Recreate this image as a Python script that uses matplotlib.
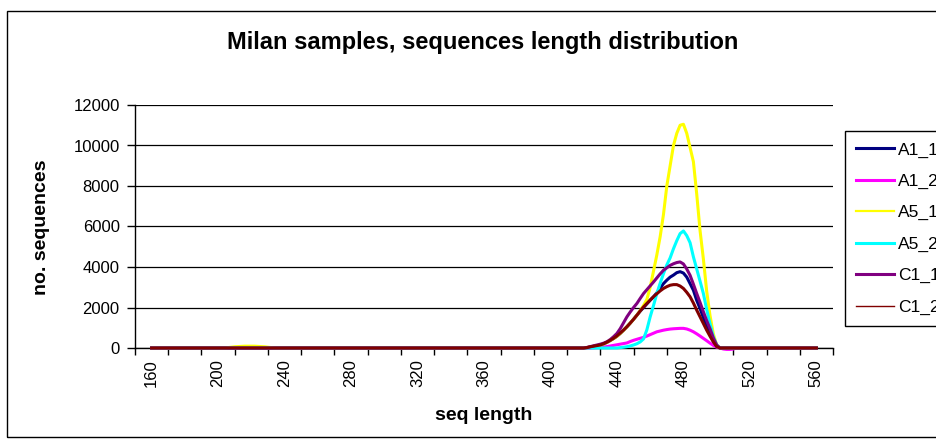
import matplotlib
matplotlib.use('Agg')
import matplotlib.pyplot as plt
from matplotlib.lines import Line2D
from matplotlib.patches import Rectangle

plt.rcParams['font.family'] = ['Liberation Sans', 'DejaVu Sans']

# sequence length (x), flat baseline + the peak region
seq_len = [160, 204, 210, 216, 222, 228, 234, 418,
           420, 422, 424, 426, 428, 430, 432, 434, 436, 438,
           440, 442, 444, 446, 448, 450, 452, 454, 456, 458,
           460, 462, 464, 466, 468, 470, 472, 474, 476, 478,
           480, 482, 484, 486, 488, 490, 492, 494, 496, 498,
           500, 502, 504, 506, 508, 510, 512, 560]

a1_1 = [0, 0, 0, 0, 0, 0, 0, 0,
        0, 20, 50, 80, 110, 140, 200, 280, 370, 470,
        580, 720, 880, 1050, 1230, 1420, 1620, 1820, 2000, 2180,
        2360, 2530, 2720, 2950, 3180, 3350, 3500, 3600, 3720, 3770,
        3700, 3500, 3180, 2850, 2350, 1950, 1500, 1050, 680, 350,
        80, 0, 0, 0, 0, 0, 0, 0]
a1_2 = [0, 0, 0, 0, 0, 0, 0, 0,
        0, 0, 0, 10, 20, 30, 50, 70, 100, 130,
        160, 190, 220, 250, 320, 380, 430, 480, 525, 590,
        660, 730, 800, 840, 880, 910, 935, 950, 960, 970,
        970, 940, 880, 800, 700, 590, 475, 360, 240, 130,
        40, 0, -50, -70, -70, -50, 0, 0]
a5_1 = [0, 0, 60, 90, 90, 60, 0, 0,
        0, 20, 50, 80, 110, 140, 200, 280, 370, 470,
        580, 720, 880, 1050, 1230, 1420, 1620, 1850, 2100, 2400,
        3000, 3800, 4600, 5500, 6600, 8000, 9000, 10000, 10600, 11000,
        11050, 10600, 9900, 9200, 7600, 5800, 4400, 2800, 1600, 700,
        150, 0, 0, 0, 0, 0, 0, 0]
a5_2 = [0, 0, 0, 0, 0, 0, 0, 0,
        0, 0, 0, 0, 0, 0, 0, 0, 0, 0,
        0, 20, 40, 65, 100, 150, 210, 300, 450, 900,
        1540, 2100, 2690, 3200, 3670, 4100, 4450, 4900, 5300, 5650,
        5780, 5550, 5200, 4500, 3900, 3300, 2690, 1900, 1200, 560,
        150, 0, 0, 0, 0, 0, 0, 0]
c1_1 = [0, 0, 0, 0, 0, 0, 0, 0,
        0, 30, 70, 110, 150, 190, 240, 310, 420, 560,
        720, 960, 1250, 1540, 1780, 2000, 2200, 2450, 2690, 2880,
        3070, 3260, 3460, 3660, 3840, 3960, 4080, 4160, 4220, 4250,
        4150, 3900, 3590, 3150, 2690, 2250, 1790, 1350, 950, 500,
        150, 0, 0, 0, 0, 0, 0, 0]
c1_2 = [0, 0, 0, 0, 0, 0, 0, 0,
        0, 20, 60, 90, 120, 150, 210, 290, 380, 480,
        600, 740, 890, 1050, 1230, 1420, 1620, 1830, 2030, 2200,
        2370, 2530, 2680, 2820, 2940, 3030, 3100, 3130, 3130, 3060,
        2940, 2750, 2530, 2220, 1870, 1540, 1210, 880, 580, 300,
        65, 0, 0, 0, 0, 0, 0, 0]

names = ['A1_1', 'A1_2', 'A5_1', 'A5_2', 'C1_1', 'C1_2']
series = [a1_1, a1_2, a5_1, a5_2, c1_1, c1_2]
colors = ['#000080', '#FF00FF', '#FFFF00', '#00FFFF', '#800080', '#800000']
legend_lw = [2.2, 2.2, 1.6, 2.2, 2.2, 1.0]

x_ticks = list(range(150, 571, 20))
x_labels = list(range(160, 561, 40))
y_ticks = list(range(0, 12001, 2000))

fig = plt.figure(figsize=(9.36, 4.44), dpi=100)
ax = fig.add_axes([135/936, 1-348/444, 698/936, 243/444])

for name, vals, col in zip(names, series, colors):
    ax.plot(seq_len, vals, color=col, lw=2.2, label=name, clip_on=False, zorder=3)

ax.set_xlim(150, 570)
ax.set_ylim(0, 12000)
ax.set_yticks(y_ticks)
ax.set_yticklabels([str(v) for v in y_ticks], fontsize=12)
ax.set_xticks(x_ticks)
ax.set_xticklabels([''] * len(x_ticks))
ax.set_xticks(x_labels, minor=True)
ax.set_xticklabels([str(v) for v in x_labels], minor=True, rotation=90, fontsize=12)
ax.tick_params(axis='x', which='major', direction='out', length=5, width=1, color='black')
ax.tick_params(axis='x', which='minor', length=0, pad=8)
ax.tick_params(axis='y', direction='out', length=6, width=1, pad=5)
ax.grid(axis='y', color='black', lw=0.9, zorder=1)
for s in ['top', 'right']:
    ax.spines[s].set_visible(False)
ax.spines['left'].set_linewidth(1)
ax.spines['bottom'].set_linewidth(1)
ax.spines['bottom'].set_zorder(2)

fig.text(483/936, 1-42/444, 'Milan samples, sequences length distribution',
         ha='center', va='center', fontsize=17, fontweight='bold')
fig.text(42/936, 1-227/444, 'no. sequences', rotation=90,
         ha='center', va='center', fontsize=14, fontweight='bold')
fig.text(484/936, 1-415/444, 'seq length',
         ha='center', va='center', fontsize=14, fontweight='bold')

# outer chart border (runs off the right edge like the reference)
fig.patches.append(Rectangle((7/936, 1-437/444), 1.1, (437-11)/444,
                             transform=fig.transFigure, fill=False,
                             edgecolor='black', lw=1))

handles = [Line2D([0], [0], color=c, lw=w) for c, w in zip(colors, legend_lw)]
leg = fig.legend(handles, names, loc='upper left',
                 bbox_to_anchor=(845/936, 1-131/444), bbox_transform=fig.transFigure,
                 fontsize=12.5, frameon=True, fancybox=False, framealpha=1,
                 edgecolor='black', handlelength=2.2, handletextpad=0.2,
                 labelspacing=0.93, borderpad=0.65, borderaxespad=0)
leg.get_frame().set_linewidth(1)

fig.savefig('out.png', dpi=100)
